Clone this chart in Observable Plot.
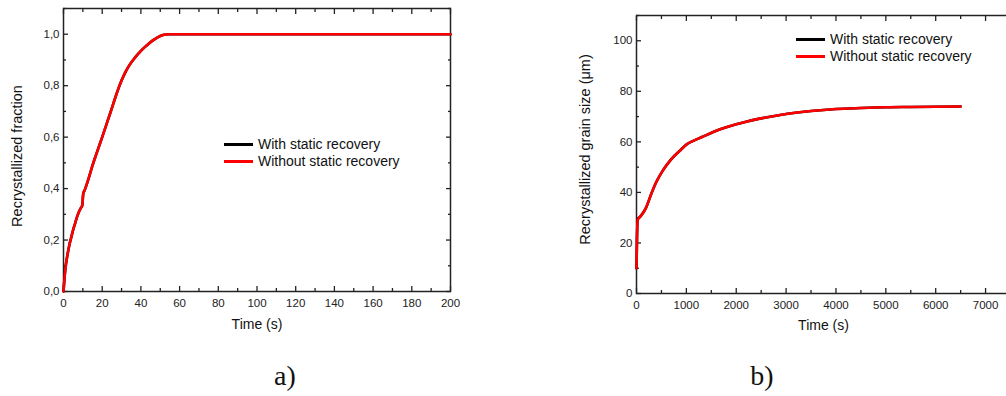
<!DOCTYPE html>
<html><head><meta charset="utf-8">
<script src="https://cdn.jsdelivr.net/npm/d3@7"></script>
<script src="https://cdn.jsdelivr.net/npm/@observablehq/plot@0.6"></script>
<style>
html,body{margin:0;padding:0;background:#fff;overflow:hidden;}
#wrap{position:relative;width:1006px;height:396px;font-family:"Liberation Sans",Arial,sans-serif;}
.pl{position:absolute;top:0;}
.leg{position:absolute;font-size:14px;color:#111;line-height:17px;}
.leg div{display:flex;align-items:center;white-space:nowrap;}
.leg span.ln{display:inline-block;width:29px;height:3px;margin-right:5px;}
.cap{position:absolute;font-family:"Liberation Serif","Times New Roman",serif;font-size:28px;color:#111;transform:translate(-50%,-50%);}
</style></head>
<body><div id="wrap"></div>
<script>
// Panel a) recrystallized fraction vs time
const timeA = [0,0.5,1,2,3,4,5,6,7,8,9,9.7,10.2,11,13,15,17,20,22,24,26,28,30,32,34,36,38,40,42,44,46,48,50,52,54,200];
const fracWith = [0,0.05,0.09,0.14,0.18,0.21,0.24,0.265,0.29,0.31,0.325,0.335,0.38,0.395,0.44,0.49,0.535,0.6,0.645,0.69,0.736,0.781,0.82,0.853,0.879,0.9,0.919,0.935,0.95,0.963,0.975,0.985,0.993,0.998,1,1];
const fracWithout = [0,0.05,0.09,0.14,0.18,0.21,0.24,0.265,0.29,0.31,0.325,0.335,0.38,0.395,0.44,0.49,0.535,0.6,0.645,0.69,0.736,0.781,0.82,0.853,0.879,0.9,0.919,0.935,0.95,0.963,0.975,0.985,0.993,0.998,1,1];
const xTicksA = [0,20,40,60,80,100,120,140,160,180,200];
const xMinorA = [10,30,50,70,90,110,130,150,170,190];
const yTicksA = [0,0.2,0.4,0.6,0.8,1.0];
const yMinorA = [0.1,0.3,0.5,0.7,0.9,1.1];

// Panel b) recrystallized grain size vs time
const timeB = [0,10,25,80,190,290,390,520,690,890,1000,1150,1300,1600,1800,2000,2200,2400,2700,3000,3500,4000,4500,5000,5500,6000,6500];
const sizeWith = [10,22,29.3,30.5,33.9,39.1,43.8,48.4,53,56.9,58.9,60.5,61.8,64.4,65.8,67,68,68.9,70,71,72.2,73,73.4,73.7,73.8,73.9,74];
const sizeWithout = [10,22,29.3,30.5,33.9,39.1,43.8,48.4,53,56.9,58.9,60.5,61.8,64.4,65.8,67,68,68.9,70,71,72.2,73,73.4,73.7,73.8,73.9,74];
const xTicksB = [0,1000,2000,3000,4000,5000,6000,7000];
const xMinorB = [500,1500,2500,3500,4500,5500,6500,7500];
const yTicksB = [0,20,40,60,80,100];
const yMinorB = [10,30,50,70,90,110];

const seriesNames = ["With static recovery","Without static recovery"];
const seriesColors = ["#000000","#ff0000"];

function rows(xs, ys){ return xs.map((x,i)=>({x, y: ys[i]})); }

function panel(opts){
  const {width, height, mL, mT, mR, mB, xDom, yDom, xT, xM, yT, yM, yFmt, d1, d2, xLab, xLabDy, yLab, yLabDx, yLabDy} = opts;
  const ax = {stroke:"#222", strokeWidth:1.3};
  return Plot.plot({
    width, height, marginLeft:mL, marginTop:mT, marginRight:mR, marginBottom:mB,
    style:{fontFamily:"'Liberation Sans',Arial,sans-serif", fontSize:"11.5px", color:"#222", background:"transparent", overflow:"visible"},
    x:{domain:xDom}, y:{domain:yDom},
    marks:[
      Plot.axisX({ticks:xT, tickSize:-5, tickPadding:12, tickFormat:d=>String(d), label:null, fontSize:11.5, ...ax}),
      Plot.axisX({ticks:xM, tickSize:-3, tickFormat:()=>"", label:null, ...ax}),
      Plot.axisX({anchor:"top", ticks:xT, tickSize:-5, tickFormat:()=>"", label:null, ...ax}),
      Plot.axisX({anchor:"top", ticks:xM, tickSize:-3, tickFormat:()=>"", label:null, ...ax}),
      Plot.axisY({ticks:yT, tickSize:-5, tickPadding:9, tickFormat:yFmt, label:null, fontSize:11.5, ...ax}),
      Plot.axisY({ticks:yM, tickSize:-3, tickFormat:()=>"", label:null, ...ax}),
      Plot.axisY({anchor:"right", ticks:yT, tickSize:-5, tickFormat:()=>"", label:null, ...ax}),
      Plot.axisY({anchor:"right", ticks:yM, tickSize:-3, tickFormat:()=>"", label:null, ...ax}),
      Plot.frame({stroke:"#222", strokeWidth:1.5}),
      Plot.line(d1, {x:"x", y:"y", stroke:seriesColors[0], strokeWidth:2.6, curve:"monotone-x"}),
      Plot.line(d2, {x:"x", y:"y", stroke:seriesColors[1], strokeWidth:2.6, curve:"monotone-x"}),
      Plot.text([xLab], {frameAnchor:"bottom", dy:xLabDy, fontSize:14, fill:"#111"}),
      Plot.text([yLab], {frameAnchor:"left", textAnchor:"middle", rotate:-90, dx:yLabDx, dy:yLabDy, fontSize:14.5, fill:"#111"})
    ]
  });
}

const wrap = document.getElementById("wrap");

const pa = panel({width:460, height:340, mL:63, mT:8, mR:10, mB:49, xDom:[0,200], yDom:[0,1.1],
  xT:xTicksA, xM:xMinorA, yT:yTicksA, yM:yMinorA, yFmt:d=>d.toFixed(1).replace(".",","),
  d1:rows(timeA,fracWith), d2:rows(timeA,fracWithout), xLab:"Time (s)", xLabDy:37, yLab:"Recrystallized fraction", yLabDx:-46, yLabDy:6});
pa.classList.add("pl"); pa.style.left="0px";
wrap.appendChild(pa);

const pb = panel({width:450, height:340, mL:66, mT:15, mR:10, mB:47, xDom:[0,7500], yDom:[0,110],
  xT:xTicksB, xM:xMinorB, yT:yTicksB, yM:yMinorB, yFmt:d=>String(d),
  d1:rows(timeB,sizeWith), d2:rows(timeB,sizeWithout), xLab:"Time (s)", xLabDy:36, yLab:"Recrystallized grain size (μm)", yLabDx:-51, yLabDy:-5});
pb.classList.add("pl"); pb.style.left="570px";
wrap.appendChild(pb);

function legend(left, top){
  const L = document.createElement("div");
  L.className = "leg"; L.style.left = left+"px"; L.style.top = top+"px";
  seriesNames.forEach((n,i)=>{
    const r = document.createElement("div");
    const s = document.createElement("span"); s.className="ln"; s.style.background = seriesColors[i];
    r.appendChild(s); r.appendChild(document.createTextNode(n));
    L.appendChild(r);
  });
  wrap.appendChild(L);
}
legend(224, 136);
legend(796, 31);

function cap(t, x, y){
  const c = document.createElement("div"); c.className="cap"; c.textContent=t;
  c.style.left=x+"px"; c.style.top=y+"px"; wrap.appendChild(c);
}
cap("a)", 285, 376);
cap("b)", 762, 376);
</script></body></html>
